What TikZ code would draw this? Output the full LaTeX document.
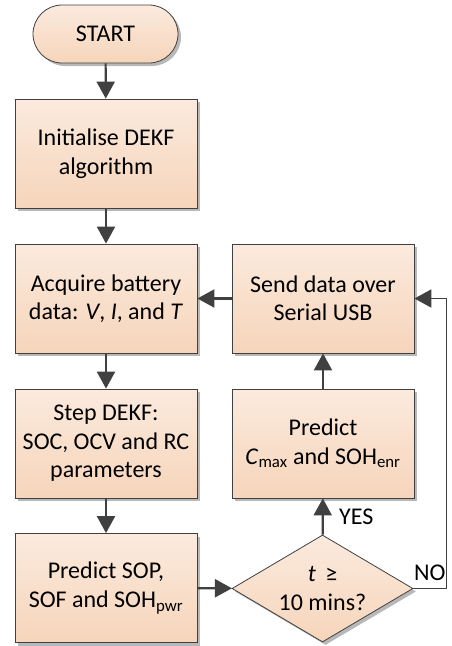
\documentclass[tikz,border=0pt]{standalone}
\usepackage{fontspec}
\setmainfont{Carlito}
\usetikzlibrary{arrows.meta, shapes.geometric, shapes.misc, shadows}

\definecolor{boxtop}{RGB}{251,234,222}
\definecolor{boxbot}{RGB}{246,213,186}
\definecolor{linegray}{RGB}{64,64,64}

\begin{document}
\begin{tikzpicture}[x=1pt, y=-1pt,
    font=\fontsize{24}{28.5}\selectfont,
    shade/.style={top color=boxtop, bottom color=boxbot, draw=linegray, line width=0.8pt,
        drop shadow={shadow xshift=3pt, shadow yshift=-3pt, fill=black!28, opacity=1}},
    terminal/.style={shade, rounded rectangle, minimum width=145pt, minimum height=58pt, inner sep=0pt},
    box/.style={shade, rectangle, minimum width=182pt, minimum height=109pt, inner sep=0pt, align=center},
    decision/.style={shade, diamond, aspect=1.7, minimum width=181pt, minimum height=107pt, inner sep=0pt, align=center},
    flow/.style={draw=linegray, line width=2.2pt, -{Triangle[length=17pt, width=18pt]}}]
    \useasboundingbox (0,0) rectangle (451,646);

    % Left column
    \node[terminal] (start) at (105.5,34) {START};
    \node[box] (init) at (106,153.5) {Initialise DEKF\\algorithm};
    \node[box] (acq) at (106,298.5) {Acquire battery\\data: \textit{V}, \textit{I}, and \textit{T}};
    \node[box] (step) at (106,443.5) {Step DEKF:\\SOC, OCV and RC\\parameters};
    \node[box] (sop) at (106,588) {Predict SOP,\\SOF and SOH\textsubscript{pwr}};

    % Right column
    \node[box] (send) at (323,298.5) {Send data over\\Serial USB};
    \node[box] (pred) at (323,443.5) {Predict\\\textit{C}\textsubscript{max} and SOH\textsubscript{enr}};
    \node[decision] (dec) at (322.5,588.5) {\textit{t}\, ≥\\10 mins?};

    % Connectors
    \draw[flow] (start) -- (init);
    \draw[flow] (init) -- (acq);
    \draw[flow] (acq) -- (step);
    \draw[flow] (step) -- (sop);
    \draw[flow] (sop) -- (dec);
    \draw[flow] (dec) -- node[midway, right=12pt] {YES} (pred);
    \draw[flow] (pred) -- (send);
    \draw[flow] (send) -- (acq);

    % Loop back
    \draw[flow, line width=1.8pt] (dec.east) -- node[above=4pt] {NO} ++(33,0) |- (send.east);
\end{tikzpicture}
\end{document}
